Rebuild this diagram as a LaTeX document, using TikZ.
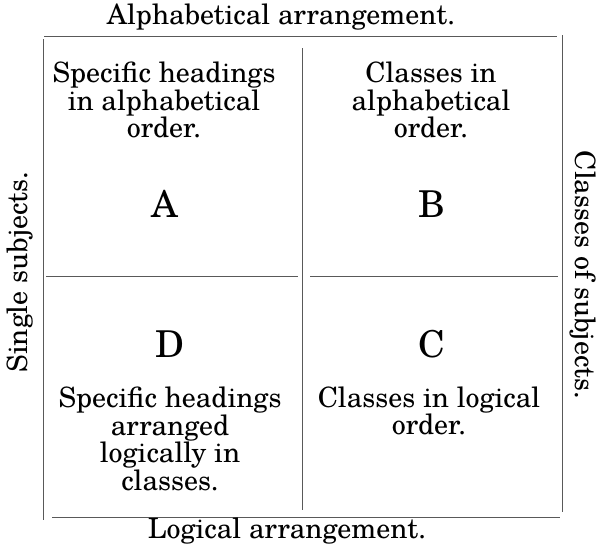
\documentclass[tikz,border=0pt]{standalone}
\usepackage{fontspec}
\setmainfont{TeX Gyre Schola}
\tikzset{
  rule/.style={draw=black!65, line width=0.8pt},
  body/.style={align=center, font=\fontsize{28}{27.5}\selectfont, inner sep=0pt},
  letter/.style={font=\fontsize{37}{37}\selectfont, inner sep=0pt},
  axis/.style={font=\fontsize{28}{28}\selectfont, inner sep=0pt}
}
\begin{document}
\begin{tikzpicture}[x=1pt,y=-1pt]
\useasboundingbox (0,0) rectangle (600,550);
% frame coordinates
\coordinate (tl) at (44,36);
\coordinate (tr) at (557,36);
\coordinate (lt) at (43,39);
\coordinate (lb) at (43,520);
\coordinate (rt) at (562,35);
\coordinate (rb) at (562,512);
\coordinate (bl) at (52,517);
\coordinate (br) at (560,517);
\coordinate (mt) at (302,48);
\coordinate (mb) at (302,510);
\coordinate (hl1) at (46,276);
\coordinate (hl2) at (298,276);
\coordinate (hr1) at (310,276);
\coordinate (hr2) at (558,276);
\draw[rule] (tl) -- (tr);
\draw[rule] (lt) -- (lb);
\draw[rule] (rt) -- (rb);
\draw[rule] (bl) -- (br);
\draw[rule] (mt) -- (mb);
\draw[rule] (hl1) -- (hl2);
\draw[rule] (hr1) -- (hr2);
% labels
\node[axis] (top) at (281,17) {Alphabetical arrangement.};
\node[axis] (bot) at (287,531) {Logical arrangement.};
\node[axis, rotate=90] (left) at (20,272) {Single subjects.};
\node[axis, rotate=-90] (right) at (583,275) {Classes of subjects.};
% quadrants
\node[body] (ta) at (164,100) {Specific headings\\in alphabetical\\order.};
\node[body] (tb) at (431,100) {Classes in\\alphabetical\\order.};
\node[letter] (A) at (165,204) {A};
\node[letter] (B) at (432,204) {B};
\node[letter] (D) at (170,344) {D};
\node[letter] (C) at (432,344) {C};
\node[body] (td) at (170,439) {Specific headings\\arranged\\logically in\\classes.};
\node[body] (tc) at (429,411) {Classes in logical\\order.};
\end{tikzpicture}
\end{document}
